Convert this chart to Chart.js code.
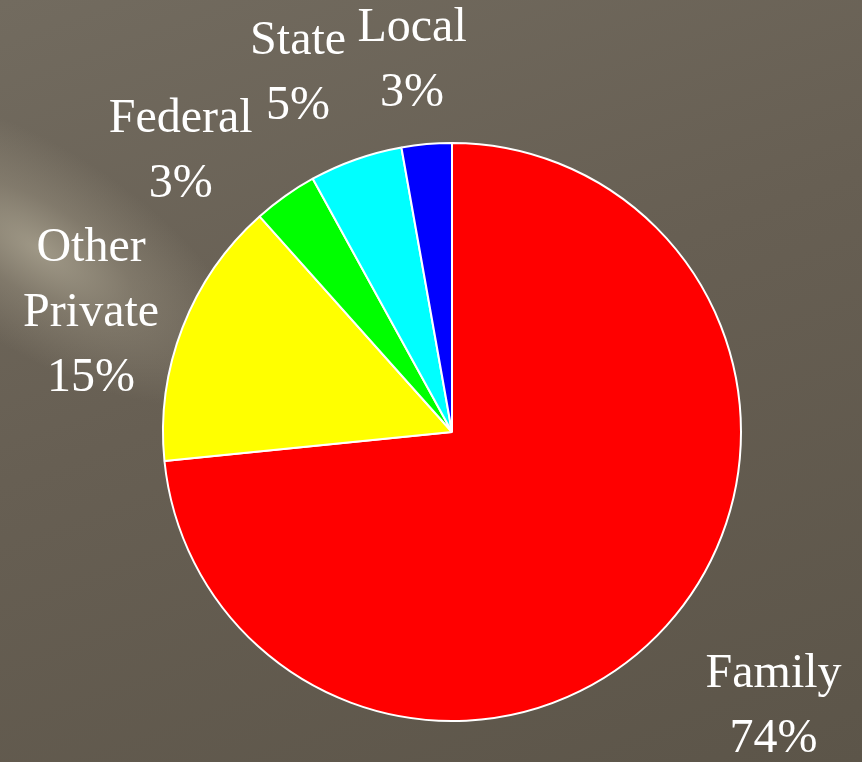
<!DOCTYPE html>
<html>
<head>
<meta charset="utf-8">
<script src="https://cdn.jsdelivr.net/npm/chart.js@4.4.1/dist/chart.umd.min.js"></script>
<style>
  html, body {
    margin: 0;
    padding: 0;
    width: 862px;
    height: 762px;
    overflow: hidden;
  }
  body {
    position: relative;
    background: linear-gradient(160deg, #726b5f 0%, #675f53 45%, #5c5549 100%);
  }
  /* soft light streak in the upper left corner */
  #streak {
    position: absolute;
    left: -200px;
    top: 150px;
    width: 480px;
    height: 200px;
    transform: rotate(33deg);
    background: radial-gradient(closest-side, rgba(172,165,146,0.8) 0%, rgba(160,152,134,0.4) 45%, rgba(150,142,124,0) 100%);
  }
  canvas { display: block; position: relative; }
</style>
</head>
<body>
<div id="streak"></div>
<canvas id="pie" width="862" height="762"></canvas>
<script>
// sources of funding
const categories = ['Family', 'Other Private', 'Federal', 'State', 'Local'];
const labelLines = [['Family'], ['Other', 'Private'], ['Federal'], ['State'], ['Local']];
const shares = [73.4, 15.0, 3.6, 5.2, 2.8];
const shareText = ['74%', '15%', '3%', '5%', '3%'];
const sliceColors = ['#ff0000', '#ffff00', '#00ff00', '#00ffff', '#0000ff'];

// labels sit outside the pie, roughly along the middle of each slice
const outsideLabels = {
  id: 'outsideLabels',
  afterDatasetsDraw(chart, args, opts) {
    const ctx = chart.ctx;
    const meta = chart.getDatasetMeta(0);
    ctx.save();
    ctx.fillStyle = '#ffffff';
    ctx.font = '48px "Liberation Serif", "Times New Roman", serif';
    ctx.textAlign = 'center';
    ctx.textBaseline = 'middle';
    meta.data.forEach((arc, i) => {
      const p = arc.getProps(['x', 'y', 'startAngle', 'endAngle', 'outerRadius'], true);
      const mid = (p.startAngle + p.endAngle) / 2 + opts.nudge[i] * Math.PI / 180;
      const dist = p.outerRadius + opts.gap[i];
      const cx = p.x + Math.cos(mid) * dist;
      const cy = p.y + Math.sin(mid) * dist;
      const lines = labelLines[i].concat([shareText[i]]);
      lines.forEach((t, j) => {
        ctx.fillText(t, cx, cy + (j - (lines.length - 1) / 2) * opts.lineHeight);
      });
    });
    ctx.restore();
  }
};

const ctx = document.getElementById('pie');
const chart = new Chart(ctx, {
  type: 'pie',
  data: {
    labels: categories,
    datasets: [{
      data: shares,
      backgroundColor: sliceColors,
      borderColor: '#ffffff',
      borderWidth: 2
    }]
  },
  options: {
    responsive: false,
    animation: false,
    layout: {
      padding: { left: 162, right: 120, top: 142, bottom: 40 }
    },
    plugins: {
      legend: { display: false },
      tooltip: { enabled: false },
      outsideLabels: {
        gap: [134, 91, 101, 101, 84],
        nudge: [-1.6, -3, -8.8, -3.8, -1.1],
        lineHeight: 65
      }
    }
  },
  plugins: [outsideLabels]
});
</script>
</body>
</html>
